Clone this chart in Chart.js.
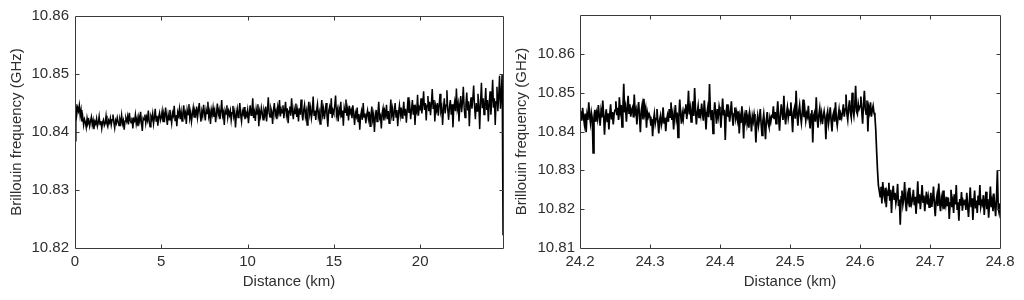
<!DOCTYPE html>
<html><head><meta charset="utf-8">
<script src="https://cdn.jsdelivr.net/npm/chart.js@4.4.1/dist/chart.umd.min.js"></script>
<style>
html,body{margin:0;padding:0;background:#fff;}
#wrap{position:relative;width:1024px;height:300px;background:#fff;}
.box{position:absolute;top:0;width:512px;height:300px;}
</style></head><body>
<div id="wrap">
<div class="box" style="left:0"><canvas id="c1" width="512" height="300"></canvas></div>
<div class="box" style="left:512px"><canvas id="c2" width="512" height="300"></canvas></div>
</div>
<script>
// ---------- Left panel: full fibre (0 - 24.8 km), samples every 0.05 km ----------
const LEFT_START_KM = 0;
const LEFT_STEP_KM = 0.05;
const leftFreq = [
  10.8385,10.8448,10.8430,10.8442,10.8436,10.8446,10.8428,10.8438,10.8418,10.8426,10.8412,10.8422,10.8417,10.8408,10.8424,10.8415,10.8420,10.8410,10.8419,10.8426,
  10.8412,10.8420,10.8405,10.8418,10.8414,10.8423,10.8410,10.8416,10.8427,10.8413,10.8419,10.8406,10.8417,10.8421,10.8411,10.8415,10.8428,10.8414,10.8409,10.8420,
  10.8416,10.8424,10.8412,10.8421,10.8430,10.8417,10.8407,10.8420,10.8415,10.8425,10.8418,10.8411,10.8422,10.8416,10.8429,10.8414,10.8420,10.8404,10.8419,10.8424,
  10.8418,10.8427,10.8413,10.8433,10.8420,10.8416,10.8425,10.8406,10.8422,10.8419,10.8430,10.8414,10.8423,10.8410,10.8426,10.8418,10.8435,10.8417,10.8402,10.8424,
  10.8421,10.8430,10.8415,10.8426,10.8420,10.8437,10.8418,10.8409,10.8427,10.8422,10.8432,10.8414,10.8425,10.8440,10.8419,10.8428,10.8411,10.8426,10.8433,10.8420,
  10.8425,10.8436,10.8418,10.8431,10.8424,10.8442,10.8427,10.8412,10.8430,10.8421,10.8438,10.8426,10.8415,10.8433,10.8428,10.8445,10.8420,10.8429,10.8410,10.8434,
  10.8428,10.8440,10.8422,10.8435,10.8419,10.8432,10.8446,10.8427,10.8433,10.8414,10.8438,10.8430,10.8448,10.8424,10.8434,10.8418,10.8431,10.8442,10.8426,10.8436,
  10.8430,10.8444,10.8425,10.8437,10.8450,10.8431,10.8418,10.8436,10.8428,10.8447,10.8433,10.8420,10.8439,10.8432,10.8452,10.8427,10.8435,10.8414,10.8438,10.8430,
  10.8442,10.8426,10.8436,10.8417,10.8433,10.8449,10.8430,10.8438,10.8422,10.8435,10.8455,10.8428,10.8434,10.8412,10.8437,10.8431,10.8446,10.8425,10.8436,10.8429,
  10.8437,10.8420,10.8433,10.8445,10.8427,10.8435,10.8408,10.8430,10.8440,10.8425,10.8434,10.8450,10.8429,10.8418,10.8436,10.8431,10.8443,10.8422,10.8433,10.8428,
  10.8438,10.8415,10.8432,10.8446,10.8429,10.8436,10.8458,10.8424,10.8434,10.8419,10.8440,10.8431,10.8448,10.8410,10.8435,10.8427,10.8442,10.8433,10.8421,10.8437,
  10.8430,10.8444,10.8418,10.8437,10.8460,10.8432,10.8426,10.8441,10.8435,10.8414,10.8438,10.8450,10.8429,10.8436,10.8422,10.8443,10.8434,10.8455,10.8427,10.8439,
  10.8433,10.8446,10.8424,10.8438,10.8452,10.8430,10.8441,10.8415,10.8436,10.8444,10.8428,10.8458,10.8435,10.8422,10.8440,10.8432,10.8449,10.8426,10.8437,10.8418,
  10.8441,10.8430,10.8456,10.8433,10.8420,10.8438,10.8447,10.8427,10.8436,10.8412,10.8439,10.8452,10.8431,10.8442,10.8424,10.8435,10.8461,10.8429,10.8437,10.8421,
  10.8438,10.8448,10.8426,10.8434,10.8414,10.8437,10.8455,10.8430,10.8440,10.8422,10.8435,10.8450,10.8428,10.8409,10.8436,10.8443,10.8431,10.8458,10.8424,10.8437,
  10.8432,10.8446,10.8463,10.8429,10.8438,10.8418,10.8440,10.8433,10.8452,10.8425,10.8437,10.8411,10.8442,10.8434,10.8456,10.8428,10.8439,10.8420,10.8445,10.8433,
  10.8438,10.8424,10.8446,10.8430,10.8412,10.8433,10.8427,10.8442,10.8418,10.8431,10.8404,10.8428,10.8436,10.8421,10.8450,10.8426,10.8432,10.8415,10.8429,10.8437,
  10.8423,10.8435,10.8410,10.8429,10.8444,10.8421,10.8430,10.8400,10.8426,10.8438,10.8418,10.8432,10.8452,10.8424,10.8428,10.8406,10.8433,10.8441,10.8420,10.8436,
  10.8428,10.8447,10.8422,10.8436,10.8415,10.8432,10.8456,10.8430,10.8440,10.8419,10.8435,10.8450,10.8426,10.8438,10.8410,10.8434,10.8446,10.8429,10.8442,10.8424,
  10.8436,10.8452,10.8428,10.8440,10.8416,10.8437,10.8460,10.8433,10.8444,10.8422,10.8439,10.8455,10.8430,10.8447,10.8412,10.8441,10.8435,10.8464,10.8428,10.8443,
  10.8440,10.8458,10.8432,10.8447,10.8470,10.8438,10.8450,10.8420,10.8446,10.8462,10.8436,10.8452,10.8429,10.8448,10.8474,10.8441,10.8455,10.8418,10.8445,10.8437,
  10.8450,10.8428,10.8445,10.8466,10.8436,10.8443,10.8412,10.8440,10.8458,10.8432,10.8446,10.8472,10.8438,10.8421,10.8444,10.8455,10.8430,10.8448,10.8408,10.8442,
  10.8452,10.8436,10.8475,10.8440,10.8449,10.8418,10.8446,10.8462,10.8434,10.8450,10.8478,10.8442,10.8425,10.8447,10.8468,10.8437,10.8453,10.8410,10.8445,10.8460,
  10.8440,10.8457,10.8480,10.8444,10.8422,10.8450,10.8436,10.8466,10.8446,10.8405,10.8452,10.8485,10.8441,10.8458,10.8430,10.8449,10.8476,10.8438,10.8455,10.8418,
  10.8448,10.8470,10.8430,10.8455,10.8490,10.8442,10.8458,10.8412,10.8452,10.8478,10.8436,10.8460,10.8497,10.8440,10.8468,10.8500,10.8222
];
const leftXTicks = [0, 5, 10, 15, 20];
const leftXLabels = ['0', '5', '10', '15', '20'];
const leftYTicks = [10.82, 10.83, 10.84, 10.85, 10.86];
const leftYLabels = ['10.82', '10.83', '10.84', '10.85', '10.86'];

// ---------- Right panel: zoom 24.2 - 24.8 km, samples every 0.00125 km ----------
const RIGHT_START_KM = 24.2;
const RIGHT_STEP_KM = 0.00125;
const rightFreq = [
  10.8440,10.8452,10.8428,10.8461,10.8437,10.8419,10.8446,10.8398,10.8443,10.8430,10.8475,10.8441,10.8422,10.8449,10.8434,10.8345,10.8438,10.8456,10.8425,10.8447,
  10.8433,10.8468,10.8440,10.8415,10.8452,10.8436,10.8480,10.8444,10.8392,10.8438,10.8457,10.8426,10.8447,10.8405,10.8443,10.8470,10.8431,10.8450,10.8418,10.8446,
  10.8455,10.8478,10.8442,10.8461,10.8430,10.8488,10.8452,10.8468,10.8412,10.8457,10.8523,10.8449,10.8463,10.8425,10.8459,10.8492,10.8447,10.8470,10.8438,10.8456,
  10.8462,10.8436,10.8495,10.8448,10.8457,10.8418,10.8452,10.8476,10.8440,10.8398,10.8453,10.8468,10.8431,10.8484,10.8446,10.8459,10.8410,10.8449,10.8437,10.8445,
  10.8438,10.8415,10.8432,10.8388,10.8429,10.8446,10.8420,10.8433,10.8458,10.8424,10.8395,10.8430,10.8441,10.8416,10.8427,10.8462,10.8422,10.8436,10.8401,10.8431,
  10.8442,10.8425,10.8458,10.8437,10.8475,10.8430,10.8445,10.8405,10.8441,10.8468,10.8434,10.8449,10.8385,10.8438,10.8482,10.8443,10.8420,10.8447,10.8432,10.8455,
  10.8448,10.8470,10.8432,10.8456,10.8505,10.8444,10.8460,10.8425,10.8452,10.8478,10.8440,10.8512,10.8455,10.8418,10.8449,10.8466,10.8436,10.8458,10.8443,10.8472,
  10.8446,10.8428,10.8480,10.8450,10.8405,10.8447,10.8462,10.8437,10.8522,10.8452,10.8429,10.8455,10.8395,10.8444,10.8475,10.8448,10.8420,10.8458,10.8439,10.8464,
  10.8450,10.8410,10.8447,10.8485,10.8441,10.8456,10.8378,10.8443,10.8470,10.8438,10.8452,10.8425,10.8448,10.8478,10.8440,10.8415,10.8446,10.8462,10.8434,10.8449,
  10.8430,10.8452,10.8395,10.8437,10.8422,10.8465,10.8433,10.8382,10.8440,10.8428,10.8455,10.8420,10.8436,10.8410,10.8447,10.8431,10.8400,10.8439,10.8426,10.8445,
  10.8428,10.8372,10.8422,10.8440,10.8415,10.8432,10.8458,10.8420,10.8390,10.8427,10.8445,10.8418,10.8380,10.8430,10.8450,10.8421,10.8412,10.8436,10.8424,10.8440,
  10.8438,10.8465,10.8432,10.8450,10.8420,10.8445,10.8478,10.8436,10.8402,10.8441,10.8470,10.8448,10.8430,10.8492,10.8440,10.8418,10.8446,10.8462,10.8435,10.8451,
  10.8442,10.8475,10.8438,10.8398,10.8450,10.8460,10.8433,10.8505,10.8447,10.8415,10.8452,10.8468,10.8440,10.8422,10.8449,10.8482,10.8437,10.8455,10.8428,10.8446,
  10.8438,10.8466,10.8430,10.8408,10.8445,10.8455,10.8372,10.8440,10.8448,10.8425,10.8488,10.8436,10.8410,10.8443,10.8460,10.8432,10.8447,10.8419,10.8439,10.8452,
  10.8434,10.8380,10.8440,10.8452,10.8420,10.8437,10.8462,10.8428,10.8400,10.8441,10.8450,10.8425,10.8475,10.8433,10.8415,10.8438,10.8456,10.8429,10.8444,10.8435,
  10.8450,10.8470,10.8438,10.8458,10.8495,10.8446,10.8430,10.8462,10.8480,10.8449,10.8436,10.8500,10.8455,10.8440,10.8466,10.8518,10.8452,10.8445,10.8472,10.8458,
  10.8465,10.8490,10.8452,10.8420,10.8470,10.8505,10.8458,10.8445,10.8480,10.8400,10.8462,10.8450,10.8475,10.8438,10.8455,10.8466,10.8448,10.8440,10.8405,10.8350,
  10.8300,10.8262,10.8248,10.8232,10.8258,10.8215,10.8270,10.8240,10.8228,10.8255,10.8205,10.8245,10.8236,10.8268,10.8222,10.8250,10.8190,10.8238,10.8260,10.8226,
  10.8242,10.8215,10.8230,10.8265,10.8208,10.8225,10.8160,10.8232,10.8248,10.8212,10.8228,10.8270,10.8218,10.8195,10.8236,10.8222,10.8255,10.8205,10.8230,10.8214,
  10.8226,10.8250,10.8210,10.8232,10.8188,10.8222,10.8272,10.8215,10.8238,10.8200,10.8228,10.8262,10.8218,10.8235,10.8195,10.8224,10.8245,10.8212,10.8230,10.8205,
  10.8220,10.8242,10.8206,10.8226,10.8258,10.8212,10.8182,10.8222,10.8236,10.8208,10.8266,10.8218,10.8195,10.8228,10.8214,10.8248,10.8200,10.8224,10.8210,10.8232,
  10.8208,10.8230,10.8175,10.8216,10.8250,10.8205,10.8222,10.8190,10.8238,10.8212,10.8262,10.8200,10.8218,10.8170,10.8226,10.8209,10.8244,10.8196,10.8220,10.8212,
  10.8225,10.8198,10.8242,10.8210,10.8180,10.8218,10.8256,10.8205,10.8228,10.8172,10.8215,10.8248,10.8202,10.8222,10.8190,10.8235,10.8210,10.8262,10.8206,10.8219,
  10.8212,10.8236,10.8185,10.8220,10.8245,10.8200,10.8226,10.8178,10.8214,10.8258,10.8205,10.8222,10.8195,10.8240,10.8210,10.8182,10.8228,10.8298,10.8202,10.8190,
  10.8215
];
const rightXTicks = [24.2, 24.3, 24.4, 24.5, 24.6, 24.7, 24.8];
const rightXLabels = ['24.2', '24.3', '24.4', '24.5', '24.6', '24.7', '24.8'];
const rightYTicks = [10.81, 10.82, 10.83, 10.84, 10.85, 10.86, 10.87];
const rightYLabels = ['10.81', '10.82', '10.83', '10.84', '10.85', '10.86', ''];

const X_TITLE = 'Distance (km)';
const Y_TITLE = 'Brillouin frequency (GHz)';

// ---------- helpers ----------
const TXT = '#2e2e2e';
const FONT = {family: "'Liberation Sans', Arial, sans-serif", size: 15};

function toPoints(start, step, vals) {
  return vals.map((v, i) => ({x: +(start + i * step).toFixed(5), y: v}));
}

const framePlugin = {
  id: 'frame',
  afterDatasetsDraw(chart) {
    const {ctx, chartArea: a, scales} = chart;
    const xs = scales.x, ys = scales.y;
    ctx.save();
    ctx.strokeStyle = '#3a3a3a';
    ctx.lineWidth = 1;
    ctx.beginPath();
    const L = a.left + 0.5, R = a.right + 0.5, T = a.top + 0.5, B = a.bottom + 0.5;
    ctx.rect(L, T, R - L, B - T);
    const len = 4;
    xs.ticks.forEach(t => {
      const p = Math.round(xs.getPixelForValue(t.value)) + 0.5;
      if (p <= L + 1 || p >= R - 1) return;
      ctx.moveTo(p, B); ctx.lineTo(p, B - len);
      ctx.moveTo(p, T); ctx.lineTo(p, T + len);
    });
    ys.ticks.forEach(t => {
      const p = Math.round(ys.getPixelForValue(t.value)) + 0.5;
      if (p <= T + 1 || p >= B - 1) return;
      ctx.moveTo(L, p); ctx.lineTo(L + len, p);
      ctx.moveTo(R, p); ctx.lineTo(R - len, p);
    });
    ctx.stroke();
    ctx.restore();
  }
};

function makeChart(id, cfg) {
  return new Chart(document.getElementById(id), {
    type: 'line',
    data: {
      datasets: [{
        data: toPoints(cfg.start, cfg.step, cfg.vals),
        borderColor: '#000',
        borderWidth: cfg.lineW,
        pointRadius: 0,
        tension: 0,
        fill: false
      }]
    },
    options: {
      responsive: false,
      animation: false,
      events: [],
      layout: {padding: cfg.pad},
      plugins: {legend: {display: false}, tooltip: {enabled: false}},
      scales: {
        x: {
          type: 'linear',
          min: cfg.xMin, max: cfg.xMax,
          afterBuildTicks: s => { s.ticks = cfg.xTicks.map(v => ({value: v})); },
          afterFit: s => { s.height = 52; },
          grid: {display: false, drawTicks: false},
          border: {display: false},
          ticks: {
            padding: 5, color: TXT, font: FONT, maxRotation: 0, autoSkip: false,
            callback: (v, i) => cfg.xLabels[i]
          },
          title: {display: true, text: X_TITLE, color: TXT, font: FONT, padding: {top: 0, bottom: 9}}
        },
        y: {
          type: 'linear',
          min: cfg.yMin, max: cfg.yMax,
          afterBuildTicks: s => { s.ticks = cfg.yTicks.map(v => ({value: v})); },
          afterFit: s => { s.width = cfg.yWidth; },
          grid: {display: false, drawTicks: false},
          border: {display: false},
          ticks: {
            padding: cfg.yTickPad, color: TXT, font: FONT, autoSkip: false,
            callback: (v, i) => cfg.yLabels[i]
          },
          title: {display: true, text: Y_TITLE, color: TXT, font: FONT, padding: {top: cfg.yTitlePad, bottom: 0}}
        }
      }
    },
    plugins: [framePlugin]
  });
}

makeChart('c1', {
  start: LEFT_START_KM, step: LEFT_STEP_KM, vals: leftFreq,
  xMin: 0, xMax: 24.8, yMin: 10.82, yMax: 10.86,
  xTicks: leftXTicks, xLabels: leftXLabels, yTicks: leftYTicks, yLabels: leftYLabels,
  pad: {left: 0, right: 9, top: 16, bottom: 0},
  yWidth: 75, yTickPad: 6, yTitlePad: 8, lineW: 1.5
});

makeChart('c2', {
  start: RIGHT_START_KM, step: RIGHT_STEP_KM, vals: rightFreq,
  xMin: 24.2, xMax: 24.8, yMin: 10.81, yMax: 10.87,
  xTicks: rightXTicks, xLabels: rightXLabels, yTicks: rightYTicks, yLabels: rightYLabels,
  pad: {left: 0, right: 24, top: 15, bottom: 0},
  yWidth: 68, yTickPad: 5, yTitlePad: 1, lineW: 1.7
});
</script>
</body></html>
